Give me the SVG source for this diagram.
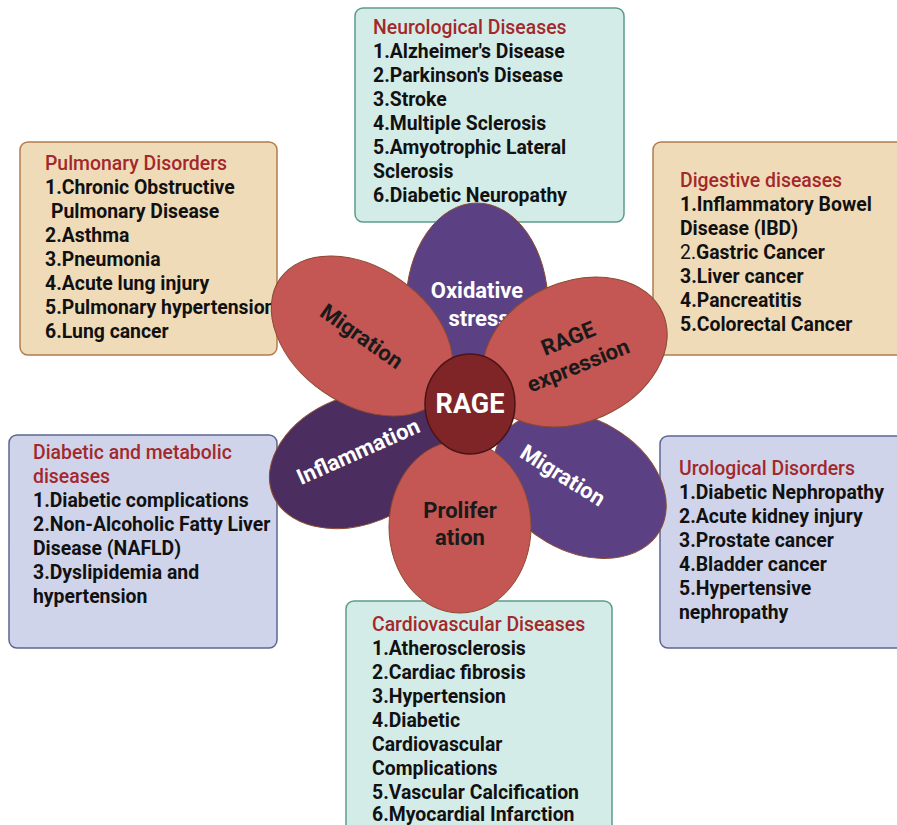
<svg xmlns="http://www.w3.org/2000/svg" width="897" height="825" viewBox="0 0 897 825">
<style>
.bx{stroke-width:1.5}
.teal{fill:#d4ece8;stroke:#5c9b8c}
.tan{fill:#f0dbb9;stroke:#b07c4e}
.lav{fill:#d0d4ea;stroke:#5d6593}
.t{font-family:Roboto,"Liberation Sans",sans-serif;font-size:19.4px}
.h{fill:#a3282b;font-weight:500}
.i{fill:#111;font-weight:700}
.pr{fill:#c45653;stroke:#8a4a30;stroke-width:1}
.pp{fill:#5b4184;stroke:#8a4a30;stroke-width:1}
.pd{fill:#4b2d5f;stroke:#8a4a30;stroke-width:1}
.pl{font-family:Roboto,"Liberation Sans",sans-serif;font-size:22px;font-weight:700;text-anchor:middle}
.big{font-size:27px}
.w{fill:#fff}
.k{fill:#1a1a1a}
</style>
<rect width="897" height="825" fill="#fff"/>
<g id="neurological">
<rect class="bx teal" x="355" y="8" width="269" height="214" rx="8"/>
<text class="t h" x="373" y="34">Neurological Diseases</text>
<text class="t i" x="373" y="58">1.Alzheimer's Disease</text>
<text class="t i" x="373" y="82">2.Parkinson's Disease</text>
<text class="t i" x="373" y="106">3.Stroke</text>
<text class="t i" x="373" y="130">4.Multiple Sclerosis</text>
<text class="t i" x="373" y="154">5.Amyotrophic Lateral</text>
<text class="t i" x="373" y="178">Sclerosis</text>
<text class="t i" x="373" y="202">6.Diabetic Neuropathy</text>
</g>
<g id="pulmonary">
<rect class="bx tan" x="20" y="142" width="257" height="213" rx="8"/>
<text class="t h" x="45" y="170">Pulmonary Disorders</text>
<text class="t i" x="45" y="194">1.Chronic Obstructive</text>
<text class="t i" x="51" y="218">Pulmonary Disease</text>
<text class="t i" x="45" y="242">2.Asthma</text>
<text class="t i" x="45" y="266">3.Pneumonia</text>
<text class="t i" x="45" y="290">4.Acute lung injury</text>
<text class="t i" x="45" y="314">5.Pulmonary hypertension</text>
<text class="t i" x="45" y="338">6.Lung cancer</text>
</g>
<g id="digestive">
<rect class="bx tan" x="653" y="142" width="260" height="213" rx="8"/>
<text class="t h" x="680" y="187">Digestive diseases</text>
<text class="t i" x="680" y="211">1.Inflammatory Bowel</text>
<text class="t i" x="680" y="235">Disease (IBD)</text>
<text class="t i" x="680" y="259"><tspan font-weight="400">2.</tspan>Gastric Cancer</text>
<text class="t i" x="680" y="283">3.Liver cancer</text>
<text class="t i" x="680" y="307">4.Pancreatitis</text>
<text class="t i" x="680" y="331">5.Colorectal Cancer</text>
</g>
<g id="diabetic">
<rect class="bx lav" x="9" y="435" width="268" height="213" rx="8"/>
<text class="t h" x="33" y="459">Diabetic and metabolic</text>
<text class="t h" x="33" y="483">diseases</text>
<text class="t i" x="33" y="507">1.Diabetic complications</text>
<text class="t i" x="33" y="531">2.Non-Alcoholic Fatty Liver</text>
<text class="t i" x="33" y="555">Disease (NAFLD)</text>
<text class="t i" x="33" y="579">3.Dyslipidemia and</text>
<text class="t i" x="33" y="603">hypertension</text>
</g>
<g id="urological">
<rect class="bx lav" x="660" y="436" width="260" height="212" rx="8"/>
<text class="t h" x="679" y="475">Urological Disorders</text>
<text class="t i" x="679" y="499">1.Diabetic Nephropathy</text>
<text class="t i" x="679" y="523">2.Acute kidney injury</text>
<text class="t i" x="679" y="547">3.Prostate cancer</text>
<text class="t i" x="679" y="571">4.Bladder cancer</text>
<text class="t i" x="679" y="595">5.Hypertensive</text>
<text class="t i" x="679" y="619">nephropathy</text>
</g>
<g id="cardiovascular">
<rect class="bx teal" x="346" y="601" width="266" height="240" rx="8"/>
<text class="t h" x="372" y="631">Cardiovascular Diseases</text>
<text class="t i" x="372" y="655">1.Atherosclerosis</text>
<text class="t i" x="372" y="679">2.Cardiac fibrosis</text>
<text class="t i" x="372" y="703">3.Hypertension</text>
<text class="t i" x="372" y="727">4.Diabetic</text>
<text class="t i" x="372" y="751">Cardiovascular</text>
<text class="t i" x="372" y="775">Complications</text>
<text class="t i" x="372" y="799">5.Vascular Calcification</text>
<text class="t i" x="372" y="821">6.Myocardial Infarction</text>
</g>
<g id="connectors"></g>
<g id="flower">
<g id="petal-oxidative">
<ellipse class="pp" cx="477" cy="305" rx="71" ry="102"/>
<text class="pl w" x="477" y="298">Oxidative</text>
<text class="pl w" x="479" y="326">stress</text>
</g>
<g id="petal-migration-lr">
<ellipse class="pp" cx="580" cy="485" rx="92" ry="66" transform="rotate(30 580 485)"/>
<text class="pl w" x="563" y="483" transform="rotate(32 563 475)">Migration</text>
</g>
<g id="petal-inflammation">
<ellipse class="pd" cx="358" cy="460" rx="92" ry="64" transform="rotate(-22 358 460)"/>
<text class="pl w" x="358" y="459" transform="rotate(-24 358 451)">Inflammation</text>
</g>
<g id="petal-migration-ul">
<ellipse class="pr" cx="362" cy="336" rx="100" ry="68" transform="rotate(35 362 336)"/>
<text class="pl k" x="362" y="344" transform="rotate(35 362 336)">Migration</text>
</g>
<g id="petal-rage-expression">
<ellipse class="pr" cx="575" cy="352" rx="96" ry="70" transform="rotate(-24 575 352)"/>
<text class="pl k" x="568" y="346" transform="rotate(-22 568 338)">RAGE</text>
<text class="pl k" x="578" y="373" transform="rotate(-22 578 365)">expression</text>
</g>
<g id="petal-proliferation">
<ellipse class="pr" cx="460" cy="527" rx="71" ry="86"/>
<text class="pl k" x="460" y="518">Prolifer</text>
<text class="pl k" x="460" y="545">ation</text>
</g>
<g id="rage">
<ellipse cx="470" cy="404" rx="45" ry="50" fill="#7f2427" stroke="#4a1416" stroke-width="1.5"/>
<text class="pl big w" x="470" y="413">RAGE</text>
</g>
</g>
</svg>
